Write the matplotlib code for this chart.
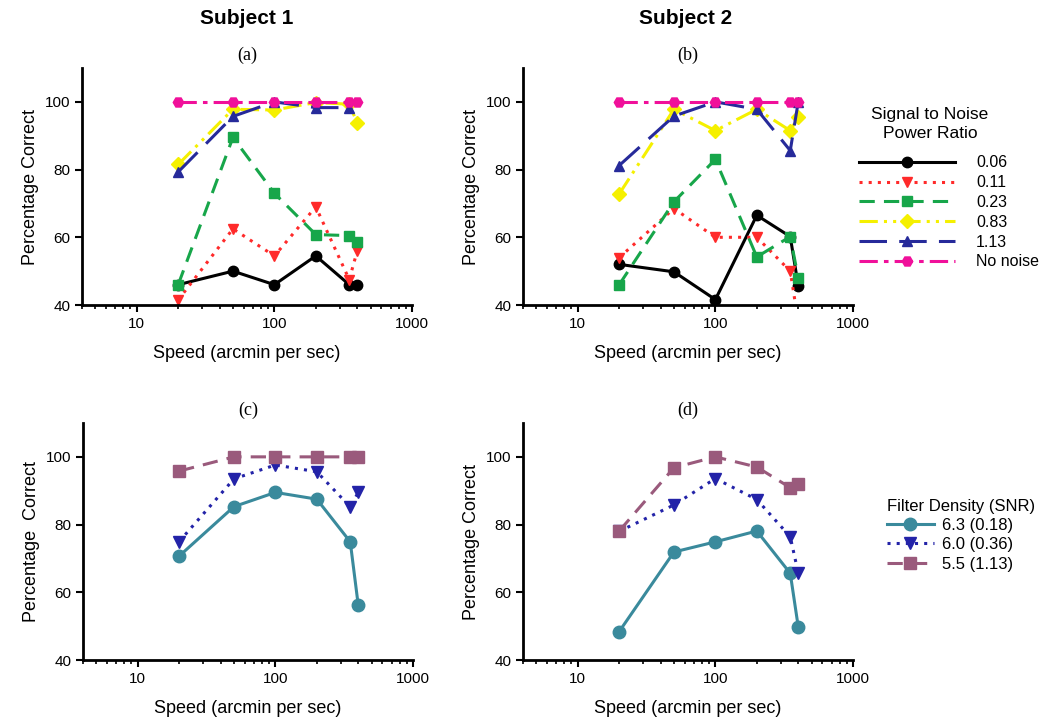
import matplotlib
matplotlib.use("Agg")
import matplotlib.pyplot as plt
from matplotlib.ticker import FixedLocator, LogLocator, NullFormatter

plt.rcParams["font.family"] = ["Liberation Sans", "DejaVu Sans"]

speed = [20, 50, 100, 200, 350, 400]

# top row: signal to noise power ratio
snr_labels = ["0.06", "0.11", "0.23", "0.83", "1.13", "No noise"]
s1_snr = [
    [46, 50, 46, 54.5, 46, 46],
    [41.5, 62.5, 54.5, 69, 47.5, 56],
    [46, 89.5, 73, 60.8, 60.5, 58.5],
    [81.5, 97.8, 97.6, 99.8, 99.3, 93.8],
    [79.3, 95.7, 100, 98.3, 98.3, None],
    [100, 100, 100, 100, 100, 100],
]
s2_snr = [
    [52, 49.8, 41.6, 66.5, 60.2, 45.7],
    [54, 68.5, 60, 60, 50, 35],
    [46, 70.5, 83, 54.2, 60.2, 48],
    [72.8, 97.8, 91.5, 97.8, 91.5, 95.6],
    [81.2, 95.8, 100, 97.8, 85.6, 100],
    [100, 100, 100, 100, 100, 100],
]

# bottom row: filter density (SNR)
fd_labels = ["6.3 (0.18)", "6.0 (0.36)", "5.5 (1.13)"]
s1_fd = [
    [70.7, 85.3, 89.5, 87.5, 74.9, 56.2],
    [75, 93.5, 97.6, 95.6, 85.2, 89.5],
    [95.8, 100, 100, 100, 100, 100],
]
s2_fd = [
    [48.4, 71.9, 74.9, 78.1, 65.6, 49.8],
    [78, 85.8, 93.6, 87.4, 76.4, 65.7],
    [78.1, 96.8, 100, 97, 90.9, 92.1],
]

snr_styles = [
    dict(color="black", ls="-", marker="o", lw=2.2),
    dict(color="#ff2a2a", ls=(0, (1, 2)), marker="v", lw=2.2),
    dict(color="#17a64a", ls=(0, (5, 3)), marker="s", lw=2.2),
    dict(color="#f5f000", ls=(0, (6, 2, 1, 2, 1, 2)), marker="D", lw=2.2),
    dict(color="#262a9a", ls=(0, (9, 4)), marker="^", lw=2.2),
    dict(color="#f0109a", ls=(0, (6, 2, 1.5, 2)), marker="H", lw=2.2),
]
fd_styles = [
    dict(color="#3a8a9c", ls="-", marker="o", lw=2.2, ms=9),
    dict(color="#2323a8", ls=(0, (1, 2)), marker="v", lw=2.2, ms=8),
    dict(color="#9a5a7c", ls=(0, (5, 3)), marker="s", lw=2.2, ms=8),
]


def style_axis(ax, panel):
    ax.set_xscale("log")
    ax.set_xlim(4, 1000)
    ax.set_ylim(40, 110)
    ax.set_yticks([40, 60, 80, 100])
    ax.xaxis.set_major_locator(FixedLocator([10, 100, 1000]))
    ax.xaxis.set_minor_locator(LogLocator(base=10, subs=range(2, 10)))
    ax.xaxis.set_minor_formatter(NullFormatter())
    ax.set_xticklabels(["10", "100", "1000"])
    for s in ("top", "right"):
        ax.spines[s].set_visible(False)
    for s in ("left", "bottom"):
        ax.spines[s].set_linewidth(2)
    ax.tick_params(which="major", direction="out", length=5, width=1.5,
                   labelsize=11, colors="black")
    ax.tick_params(which="minor", direction="out", length=3, width=1.2)
    ax.set_xlabel("Speed (arcmin per sec)", fontsize=13, labelpad=10)
    ax.set_title(panel, fontsize=13, family="Liberation Serif", pad=6)


def draw(ax, data, styles, labels):
    for vals, st, lab in zip(data, styles, labels):
        xs = [x for x, v in zip(speed, vals) if v is not None]
        ys = [v for v in vals if v is not None]
        kw = dict(st)
        kw.setdefault("ms", 7.5)
        ax.plot(xs, ys, label=lab, mec=kw["color"], **kw)


fig = plt.figure(figsize=(10.42, 7.28), dpi=100)
W, H = 1042, 728
pos = {
    "a": (82, 68, 330, 237),
    "b": (523, 68, 330, 237),
    "c": (83, 423, 330, 237),
    "d": (523, 423, 330, 237),
}
axes = {}
for k, (l, t, w, h) in pos.items():
    axes[k] = fig.add_axes([l / W, 1 - (t + h) / H, w / W, h / H])

draw(axes["a"], s1_snr, snr_styles, snr_labels)
draw(axes["b"], s2_snr, snr_styles, snr_labels)
draw(axes["c"], s1_fd, fd_styles, fd_labels)
draw(axes["d"], s2_fd, fd_styles, fd_labels)

for k in "abcd":
    style_axis(axes[k], f"({k})")
axes["a"].set_ylabel("Percentage Correct", fontsize=13)
axes["b"].set_ylabel("Percentage Correct", fontsize=13)
axes["c"].set_ylabel("Percentage  Correct", fontsize=13)
axes["d"].set_ylabel("Percentage Correct", fontsize=13)

fig.text(247 / W, 1 - 18 / H, "Subject 1", fontsize=15, fontweight="bold",
         ha="center", va="center")
fig.text(686 / W, 1 - 18 / H, "Subject 2", fontsize=15, fontweight="bold",
         ha="center", va="center")

# legend title drawn separately so the gap below it matches
fig.text(930 / W, 1 - 124 / H, "Signal to Noise\nPower Ratio", fontsize=12.5,
         ha="center", va="center", multialignment="center", linespacing=1.3)
h, l = axes["b"].get_legend_handles_labels()
fig.legend(h, l, loc="upper left", bbox_to_anchor=(845 / W, 1 - 141 / H),
           frameon=False, fontsize=11.5, handlelength=6.0, handletextpad=1.3,
           labelspacing=0.3)

h, l = axes["d"].get_legend_handles_labels()
fig.legend(h, l, loc="upper left", bbox_to_anchor=(872 / W, 1 - 484 / H),
           frameon=False, fontsize=12, title="Filter Density (SNR)",
           title_fontsize=12, handlelength=2.8, handletextpad=0.5,
           labelspacing=0.25, alignment="left")

fig.savefig("out.png", dpi=100)
